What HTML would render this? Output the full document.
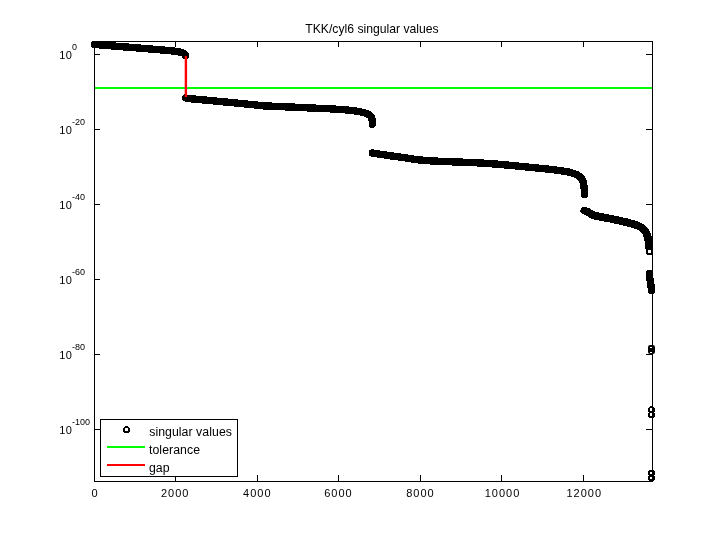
<!DOCTYPE html>
<html><head><meta charset="utf-8"><title>TKK/cyl6 singular values</title>
<style>
html,body{margin:0;padding:0;background:#fff;}
body{width:720px;height:540px;overflow:hidden;}
svg{display:block;}
text{font-family:"Liberation Sans",Arial,Helvetica,sans-serif;fill:#000;}
.t{font-size:12.2px;}
.e{font-size:9px;}
.d{font-size:11px;letter-spacing:.4px;}
.x{font-size:11px;letter-spacing:1px;}
.l{font-size:12.3px;letter-spacing:.05px;}
</style></head><body>
<svg width="720" height="540" viewBox="0 0 720 540">
<rect width="720" height="540" fill="#fff"/>
<text class="t" x="372" y="32.8" text-anchor="middle">TKK/cyl6 singular values</text>
<g stroke="#000" stroke-width="1" fill="none" shape-rendering="crispEdges">
<rect x="94.5" y="41.5" width="558" height="440"/>
<line x1="94" y1="54.5" x2="100" y2="54.5"/><line x1="646" y1="54.5" x2="652" y2="54.5"/>
<line x1="94" y1="129.5" x2="100" y2="129.5"/><line x1="646" y1="129.5" x2="652" y2="129.5"/>
<line x1="94" y1="204.5" x2="100" y2="204.5"/><line x1="646" y1="204.5" x2="652" y2="204.5"/>
<line x1="94" y1="279.5" x2="100" y2="279.5"/><line x1="646" y1="279.5" x2="652" y2="279.5"/>
<line x1="94" y1="354.5" x2="100" y2="354.5"/><line x1="646" y1="354.5" x2="652" y2="354.5"/>
<line x1="94" y1="429.5" x2="100" y2="429.5"/><line x1="646" y1="429.5" x2="652" y2="429.5"/>
<line x1="175.5" y1="481" x2="175.5" y2="475"/><line x1="175.5" y1="41" x2="175.5" y2="47"/>
<line x1="257.5" y1="481" x2="257.5" y2="475"/><line x1="257.5" y1="41" x2="257.5" y2="47"/>
<line x1="338.5" y1="481" x2="338.5" y2="475"/><line x1="338.5" y1="41" x2="338.5" y2="47"/>
<line x1="420.5" y1="481" x2="420.5" y2="475"/><line x1="420.5" y1="41" x2="420.5" y2="47"/>
<line x1="501.5" y1="481" x2="501.5" y2="475"/><line x1="501.5" y1="41" x2="501.5" y2="47"/>
<line x1="583.5" y1="481" x2="583.5" y2="475"/><line x1="583.5" y1="41" x2="583.5" y2="47"/>
</g>
<text class="d" x="59.2" y="59.1">10</text><text class="e" x="72" y="50.1">0</text>
<text class="d" x="59.2" y="134.1">10</text><text class="e" x="72" y="125.1">-20</text>
<text class="d" x="59.2" y="209.1">10</text><text class="e" x="72" y="200.1">-40</text>
<text class="d" x="59.2" y="284.1">10</text><text class="e" x="72" y="275.1">-60</text>
<text class="d" x="59.2" y="359.1">10</text><text class="e" x="72" y="350.1">-80</text>
<text class="d" x="59.2" y="434.1">10</text><text class="e" x="72" y="425.1">-100</text>
<text class="x" x="95.00" y="497" text-anchor="middle">0</text>
<text class="x" x="175.20" y="497" text-anchor="middle">2000</text>
<text class="x" x="257.30" y="497" text-anchor="middle">4000</text>
<text class="x" x="338.50" y="497" text-anchor="middle">6000</text>
<text class="x" x="420.50" y="497" text-anchor="middle">8000</text>
<text class="x" x="502.50" y="497" text-anchor="middle">10000</text>
<text class="x" x="584.25" y="497" text-anchor="middle">12000</text>
<rect x="95" y="87" width="557" height="2" fill="#00ff00"/>
<g fill="none" stroke="#000" stroke-width="7.4" stroke-linecap="round" stroke-linejoin="round" shape-rendering="crispEdges">
<polyline points="94.5,44.5 100,44.9 123.3,46.8 140,48.1 156.7,49.5 170,50.7 176.7,51.5 181,52.3 183.5,53.3 185,54.5 185.4,55.6"/>
<polyline points="185.6,98.0 190,98.7 200,99.6 230,102.4 250,104.4 263.3,105.8 280,106.6 296.7,107.3 313.3,108.1 330,108.8 346.7,109.9 357,111.2 363.3,112.5 367.5,113.8 370.2,115.6 371.8,118 372.3,121 372.3,124.4"/>
<polyline points="372.4,153 380,154.2 393.3,156.2 405,157.8 416.7,159.7 430,160.8 443.3,161.5 460,162.1 476.7,162.8 490,163.6 503.3,164.7 520,166.3 536.7,168 550,169.3 561.7,170.8 570,172.3 576.7,174.6 580.5,177.2 582.8,180.5 583.8,185 584.3,190 584.5,194.5"/>
<polyline points="649.3,273.4 649.8,278 650.8,284 651.5,290.4"/>
<polyline stroke-width="7.8" points="584.4,210.60000000000002 588,212.10000000000002 591,214.10000000000002 594,215.5 600,216.70000000000002 610,218.60000000000002 620,220.70000000000002 626.7,222.3 634,224.3 640,226.60000000000002 643.5,229.10000000000002 646,232.3 647.6,236.3 648.4,240.3 648.8,244.3 649,247.3"/>
</g>
<g fill="none" stroke="#000" stroke-width="2" shape-rendering="crispEdges">
<circle cx="649.5" cy="251.5" r="2.5" fill="#fff"/>
<circle cx="651.5" cy="409.5" r="2.5"/><circle cx="651.5" cy="414.5" r="2.5"/>
<ellipse cx="651.5" cy="473" rx="2.5" ry="2"/><ellipse cx="651.5" cy="478" rx="2.5" ry="2"/>
</g>
<rect x="648" y="345" width="7" height="9" rx="2.2" fill="#000"/><rect x="650" y="347" width="2" height="1" fill="#fff"/><rect x="650" y="352" width="2" height="1" fill="#fff"/>
<rect x="184.7" y="56" width="2.4" height="41" fill="#ff0000"/>
<rect x="100.5" y="419.5" width="137" height="57" fill="#fff" stroke="#000" stroke-width="1" shape-rendering="crispEdges"/>
<circle cx="126.5" cy="429.5" r="2.5" fill="#fff" stroke="#000" stroke-width="2" shape-rendering="crispEdges"/>
<rect x="107" y="446" width="38" height="2" fill="#00ff00"/>
<rect x="107" y="464" width="38" height="2" fill="#ff0000"/>
<text class="l" x="149.2" y="436">singular values</text>
<text class="l" x="149" y="454">tolerance</text>
<text class="l" x="148.9" y="472">gap</text>
</svg>
</body></html>
